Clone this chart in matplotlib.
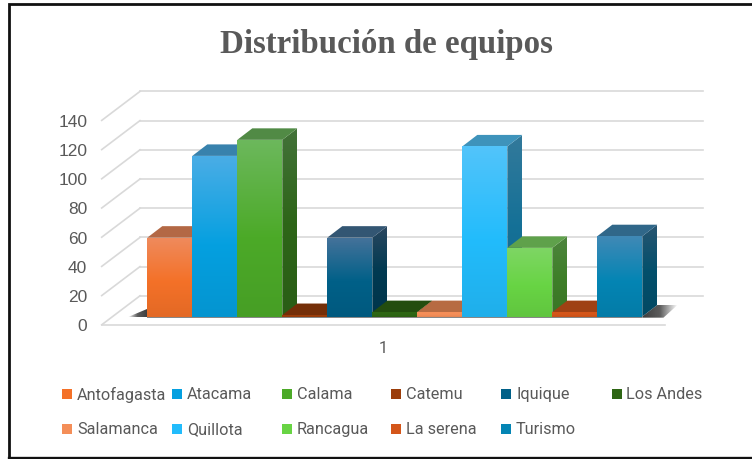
import matplotlib
matplotlib.use("Agg")
import matplotlib.pyplot as plt
import numpy as np
from matplotlib.colors import LinearSegmentedColormap, to_rgb
from matplotlib.patches import Polygon, Rectangle

teams = ['Antofagasta', 'Atacama', 'Calama', 'Catemu', 'Iquique', 'Los Andes',
         'Salamanca', 'Quillota', 'Rancagua', 'La serena', 'Turismo']
values = [54, 110, 121, 1, 54, 3, 3, 116.5, 47, 3, 55]
y_ticks = [0, 20, 40, 60, 80, 100, 120, 140]

base_colors = ['#F47128', '#05A0E0', '#4CAA28', '#9B3D0A', '#006088', '#2E6614',
               '#F48E58', '#22BCFC', '#68D444', '#D4561A', '#0485B4']
light_colors = ['#EF8A5C', '#4AADE6', '#6CB85C', '#9B3D0A', '#44729A', '#2E6614',
                '#F48E58', '#52C4FA', '#7ED664', '#D4561A', '#4089B6']

# layout, in pixels of the 752x460 picture
PX_LEFT = 147.3     # left edge of first bar
PX_BAR = 45.0       # bar width
PX_BASE = 317.5     # y of value 0 on the bars
PX_UNIT = 1.46      # pixels per value unit
DX = 15.0 / PX_BAR  # bar depth, x part
DY = 11.5 / PX_UNIT # bar depth, y part
WALL_DY = 20.7 / PX_UNIT
FRONT_DY = -8.3 / PX_UNIT
FLOOR_L = (101.7 - PX_LEFT) / PX_BAR
WALL_L = (140 - PX_LEFT) / PX_BAR
WALL_R = (703 - PX_LEFT) / PX_BAR
FLOOR_R = (665 - PX_LEFT) / PX_BAR


def mul(col, k):
    return tuple(c * k for c in to_rgb(col))


def clipped_image(ax, pts, data, cmap, z):
    pts = np.array(pts)
    im = ax.imshow(data, cmap=cmap, vmin=0, vmax=1, aspect='auto', origin='upper', zorder=z,
                   interpolation='bilinear',
                   extent=(pts[:, 0].min(), pts[:, 0].max(), pts[:, 1].min(), pts[:, 1].max()))
    clip = Polygon(pts, closed=True, transform=ax.transData, fc='none', ec='none')
    ax.add_patch(clip)
    im.set_clip_path(clip)


def grad_fill(ax, pts, stops, z):
    # vertical gradient
    cmap = LinearSegmentedColormap.from_list('g', stops)
    clipped_image(ax, pts, np.linspace(0, 1, 128).reshape(-1, 1), cmap, z)


def fade_fill(ax, pts, left_dark, z):
    # dark shadow fading out sideways
    dark, mid, clear = (0.2, 0.2, 0.2, 0.95), (0.2, 0.2, 0.2, 0.8), (0.2, 0.2, 0.2, 0.0)
    if left_dark:
        stops = [(0, dark), (0.5, mid), (1, clear)]
    else:
        stops = [(0, clear), (0.5, mid), (1, dark)]
    cmap = LinearSegmentedColormap.from_list('s', stops)
    clipped_image(ax, pts, np.linspace(0, 1, 64).reshape(1, -1), cmap, z)


fig = plt.figure(figsize=(7.52, 4.6), dpi=100)

# overlay in pixels for frame, title and legend
pg = fig.add_axes([0, 0, 1, 1], zorder=2)
pg.set_xlim(0, 752)
pg.set_ylim(460, 0)
pg.axis('off')
pg.patch.set_alpha(0)

ax = fig.add_axes([0, 0, 1, 1], zorder=1)
ax.axis('off')

# walls
for v in y_ticks:
    ax.plot([WALL_L, WALL_R], [v + WALL_DY, v + WALL_DY], color='#D9D9D9', lw=1.2, zorder=1)
    ax.plot([FLOOR_L, WALL_L], [v + FRONT_DY, v + WALL_DY], color='#D9D9D9', lw=1.2, zorder=1)
    ax.text(FLOOR_L - 14.5 / PX_BAR, v + FRONT_DY - 0.6, str(v), ha='right', va='center',
            fontsize=12.5, color='#595959', family='Liberation Sans', zorder=5)
ax.plot([FLOOR_L, FLOOR_R], [FRONT_DY, FRONT_DY], color='#D9D9D9', lw=1.2, zorder=1)

# shadows under the bars
n = len(values)
fade_fill(ax, [(-19 / PX_BAR, -0.6), (0, -0.6), (0, 5)], False, 2)
fade_fill(ax, [(n, -0.8), (n, 0), (n + DX, DY), (n + DX + 0.45, DY), (n + 0.47, -0.8)], True, 2)
ax.plot([0, n], [-0.6, -0.6], color='#707070', lw=1.2, zorder=2, solid_capstyle='butt')

# bars, left to right so each one hides the side of the one before
for i, v in enumerate(values):
    z = 3 + i * 0.01
    light, base = light_colors[i], base_colors[i]
    grad_fill(ax, [(i + 1, 0), (i + 1 + DX, DY), (i + 1 + DX, v + DY), (i + 1, v)],
              [mul(light, 0.62), mul(base, 0.6), mul(base, 0.55)], z)
    ax.add_patch(Polygon([(i, v), (i + 1, v), (i + 1 + DX, v + DY), (i + DX, v + DY)],
                         closed=True, fc=mul(light, 0.75), ec='none', zorder=z))
    stops = [(0, light), (0.55, base), (1, mul(base, 0.93))]
    grad_fill(ax, [(i, 0), (i + 1, 0), (i + 1, v), (i, v)], stops, z + 0.001)

ax.set_xlim(-PX_LEFT / PX_BAR, (752 - PX_LEFT) / PX_BAR)
ax.set_ylim((PX_BASE - 460) / PX_UNIT, PX_BASE / PX_UNIT)

# frame, open on the right
pg.plot([9, 9, 752], [458, 5, 5], color='#111111', lw=2.0, solid_joinstyle='miter')
pg.plot([9, 752], [458.5, 458.5], color='#111111', lw=2.4)

pg.text(386, 45, 'Distribución de equipos', ha='center', va='center', fontsize=23.7,
        fontweight='bold', family='Liberation Serif', color='#595959')
pg.text(383, 349, '1', ha='center', va='center', fontsize=11.5, family='Roboto', color='#595959')

# legend, two rows with fixed columns
col_x = [62, 172, 281.5, 391, 501, 611.5]
row_y = [395, 430]
for i, name in enumerate(teams):
    r, c = divmod(i, 6)
    pg.add_patch(Rectangle((col_x[c], row_y[r] - 5), 10, 10, fc=base_colors[i], ec='none'))
    pg.text(col_x[c] + 15, row_y[r], name, ha='left', va='center', fontsize=11.7,
            family='Roboto', color='#595959')

fig.savefig('out.png', dpi=100)
